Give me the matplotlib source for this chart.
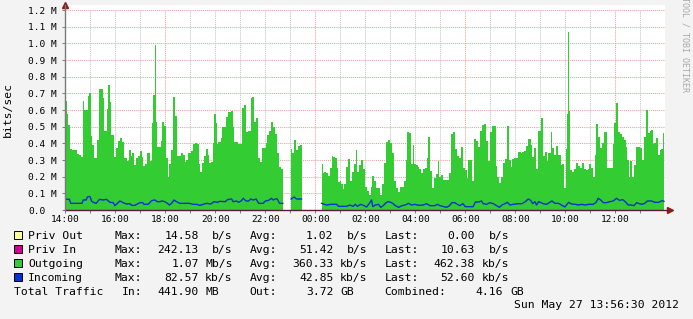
import numpy as np
import matplotlib
matplotlib.use("Agg")
import matplotlib.pyplot as plt
from matplotlib.patches import Rectangle

# time = minutes after 14:00 (Sat), values in Mbit/s
# gaps in the data are between the segments
outgoing_a = [(-2, .654), (2, .654), (4, .574), (7, .51), (10, .51), (13, .366), (19, .36), (26, .36),
              (29, .334), (35, .33), (40, .32), (43, .654), (48, .60), (53, .60), (56, .684), (59, .70),
              (63, .444), (67, .39), (71, .31), (75, .314), (79, .42), (83, .726), (88, .726), (91, .67),
              (95, .474), (98, .474), (101, .604), (106, .75), (109, .646), (112, .45), (115, .45),
              (120, .318), (123, .37), (128, .414), (133, .43), (138, .406), (143, .314), (147, .31),
              (151, .294), (155, .36), (159, .324), (163, .34), (168, .27), (173, .31), (178, .324),
              (181, .354), (186, .32), (189, .266), (194, .274), (197, .34), (202, .34), (205, .294),
              (210, .524), (213, .69), (216, .99), (219, .53), (221, .38), (226, .38), (231, .414),
              (235, .53), (239, .506), (243, .31), (248, .20), (251, .274), (255, .36), (258, .36),
              (261, .678), (266, .566), (269, .324), (275, .324), (280, .344), (285, .33), (288, .29),
              (293, .30), (298, .344), (304, .354), (309, .396), (315, .402), (319, .396), (322, .274),
              (325, .23), (330, .28), (335, .326), (339, .366), (344, .33), (347, .284), (352, .29),
              (355, .40), (359, .574), (362, .52), (365, .394), (370, .406), (375, .43), (379, .50),
              (384, .50), (389, .56), (394, .586), (400, .594), (403, .50), (408, .406), (413, .406),
              (418, .394), (423, .394), (427, .614), (432, .63), (435, .47), (442, .474), (447, .674),
              (451, .678), (455, .53), (459, .55), (464, .31), (469, .29), (474, .37), (479, .374),
              (482, .404), (487, .45), (491, .474), (496, .53), (501, .50), (506, .454), (511, .34),
              (515, .26), (520, .246), (522, .246)]
outgoing_b = [(542, .366), (546, .34), (551, .42), (555, .36), (560, .386), (566, .39), (567, .39)]
outgoing_c = [(616, .274), (619, .22), (624, .226), (629, .224), (632, .206), (637, .25), (641, .324),
              (646, .32), (650, .314), (653, .25), (656, .17), (661, .174), (664, .154), (667, .126),
              (672, .154), (677, .26), (682, .306), (685, .174), (690, .23), (695, .274), (698, .36),
              (703, .23), (707, .27), (712, .30), (717, .246), (722, .136), (727, .114), (730, .09),
              (735, .14), (739, .206), (744, .174), (749, .134), (754, .134), (757, .09), (762, .154),
              (767, .28), (771, .406), (776, .42), (781, .40), (786, .34), (791, .174), (795, .13),
              (800, .11), (805, .14), (810, .14), (815, .174), (819, .30), (823, .466), (827, .46),
              (832, .274), (835, .39), (839, .274), (843, .27), (848, .26), (851, .246), (856, .222),
              (861, .246), (866, .25), (869, .314), (874, .44), (877, .236), (882, .13), (887, .19),
              (891, .216), (896, .294), (899, .20), (904, .21), (909, .182), (914, .182), (919, .182),
              (923, .22), (928, .454), (933, .466), (938, .366), (943, .324), (947, .31), (952, .376),
              (957, .25), (962, .238), (965, .19), (970, .30), (975, .30), (978, .174), (983, .424),
              (987, .414), (992, .38), (997, .474), (1002, .51), (1007, .516), (1011, .414),
              (1016, .294), (1021, .47), (1026, .504), (1031, .504), (1034, .266), (1039, .20),
              (1043, .164), (1048, .20), (1053, .28), (1058, .306), (1063, .504), (1066, .30),
              (1071, .256), (1075, .306), (1080, .31), (1085, .314), (1090, .346), (1095, .342),
              (1099, .346), (1104, .354), (1109, .384), (1114, .426), (1119, .39), (1123, .32),
              (1128, .374), (1131, .246), (1136, .474), (1139, .474), (1143, .55), (1146, .55),
              (1149, .324), (1154, .346), (1157, .294), (1162, .34), (1167, .47), (1171, .37),
              (1176, .33), (1181, .386), (1186, .33), (1191, .27), (1195, .274), (1199, .134),
              (1202, .366), (1205, .574), (1208, 1.07), (1211, .594), (1213, .24), (1218, .23),
              (1223, .246), (1227, .28), (1232, .266), (1237, .254), (1242, .28), (1247, .246),
              (1251, .24), (1256, .246), (1259, .274), (1264, .254), (1269, .20), (1272, .33),
              (1277, .514), (1282, .44), (1287, .374), (1291, .404), (1296, .466), (1299, .466),
              (1303, .254), (1307, .254), (1312, .254), (1315, .394), (1320, .52), (1325, .644),
              (1328, .47), (1333, .454), (1338, .44), (1343, .42), (1347, .38), (1351, .30),
              (1354, .20), (1359, .294), (1363, .20), (1368, .27), (1373, .38), (1378, .378),
              (1383, .374), (1387, .30), (1392, .44), (1397, .60), (1400, .46), (1405, .474),
              (1408, .48), (1411, .394), (1416, .40), (1419, .43), (1424, .33), (1429, .36),
              (1432, .366), (1435, .46), (1437, .46)]

incoming_a = [(-2, .064), (10, .064), (13, .04), (40, .04), (43, .06), (50, .06), (53, .078), (59, .082),
              (63, .054), (67, .046), (74, .04), (82, .064), (91, .06), (99, .064), (107, .046),
              (115, .044), (119, .026), (125, .04), (131, .054), (139, .044), (147, .036), (155, .038),
              (159, .028), (167, .028), (173, .036), (179, .044), (186, .044), (189, .034), (199, .034),
              (207, .056), (215, .06), (221, .05), (227, .05), (232, .054), (239, .05), (245, .04),
              (250, .03), (255, .04), (261, .06), (267, .05), (275, .04), (298, .04), (307, .034),
              (315, .034), (323, .028), (331, .034), (339, .04), (349, .036), (357, .05), (365, .046),
              (371, .052), (384, .05), (389, .062), (399, .066), (403, .05), (411, .054), (416, .046),
              (423, .056), (427, .07), (434, .054), (440, .054), (445, .066), (451, .06), (458, .066),
              (464, .04), (475, .04), (480, .054), (488, .058), (495, .07), (499, .06), (504, .066),
              (509, .066), (514, .04), (522, .04)]
incoming_b = [(542, .066), (549, .078), (555, .066), (567, .066)]
incoming_c = [(615, .04), (627, .03), (637, .034), (651, .034), (656, .022), (675, .022), (683, .03),
              (691, .022), (696, .034), (701, .022), (709, .034), (717, .026), (723, .018), (730, .04),
              (735, .06), (738, .02), (744, .03), (752, .034), (757, .016), (763, .026), (770, .044),
              (775, .05), (781, .046), (787, .038), (792, .026), (800, .016), (808, .026), (816, .03),
              (824, .04), (831, .03), (839, .034), (848, .028), (859, .03), (867, .038), (875, .026),
              (887, .026), (893, .034), (899, .026), (909, .02), (915, .016), (922, .026), (928, .044),
              (935, .044), (941, .034), (947, .026), (954, .038), (960, .02), (979, .02), (984, .048),
              (992, .048), (999, .054), (1003, .038), (1011, .034), (1019, .044), (1027, .038),
              (1035, .026), (1042, .016), (1048, .03), (1055, .038), (1061, .046), (1067, .03),
              (1075, .034), (1088, .038), (1096, .038), (1104, .05), (1111, .066), (1117, .058),
              (1122, .038), (1127, .05), (1131, .03), (1136, .05), (1147, .038), (1155, .034),
              (1163, .046), (1168, .054), (1175, .04), (1184, .04), (1191, .03), (1199, .018),
              (1203, .03), (1208, .046), (1215, .036), (1224, .034), (1232, .03), (1239, .034),
              (1248, .03), (1256, .034), (1267, .034), (1274, .046), (1279, .07), (1285, .06),
              (1291, .044), (1299, .044), (1307, .05), (1315, .054), (1323, .07), (1330, .058),
              (1338, .062), (1344, .05), (1351, .03), (1359, .03), (1365, .026), (1371, .044),
              (1378, .038), (1384, .034), (1391, .04), (1397, .054), (1407, .054), (1415, .046),
              (1424, .046), (1432, .056), (1437, .052)]

x_tick_labels = ["14:00", "16:00", "18:00", "20:00", "22:00", "00:00",
                 "02:00", "04:00", "06:00", "08:00", "10:00", "12:00"]
y_tick_values = [0.0, 0.1, 0.2, 0.3, 0.4, 0.5, 0.6, 0.7, 0.8, 0.9, 1.0, 1.1, 1.2]
y_tick_labels = ["0.0", "0.1 M", "0.2 M", "0.3 M", "0.4 M", "0.5 M", "0.6 M",
                 "0.7 M", "0.8 M", "0.9 M", "1.0 M", "1.1 M", "1.2 M"]

names = ["Priv Out", "Priv In", "Outgoing", "Incoming"]
colors = ["#ffff99", "#cc0099", "#33cc33", "#0033cc"]
max_vals = ["14.58", "242.13", "1.07", "82.57"]
max_units = ["b/s", "b/s", "Mb/s", "kb/s"]
avg_vals = ["1.02", "51.42", "360.33", "42.85"]
avg_units = ["b/s", "b/s", "kb/s", "kb/s"]
last_vals = ["0.00", "10.63", "462.38", "52.60"]
last_units = ["b/s", "b/s", "kb/s", "kb/s"]
total_in, total_out, total_all = ("441.90", "MB"), ("3.72", "GB"), ("4.16", "GB")
stamp = "Sun May 27 13:56:30 2012"


def join(*segs):
    t, v = [], []
    for s in segs:
        if t:
            t.append(t[-1] + 1)
            v.append(np.nan)
        t += [p[0] for p in s]
        v += [p[1] for p in s]
    return np.array(t, float), np.array(v, float)


W, H = 693, 319
MONO = "DejaVu Sans Mono"
RED = "#eaa0a0"
GREY = "#c4c4c4"

fig = plt.figure(figsize=(W / 100, H / 100), dpi=100, facecolor="#f3f3f3")
ax = fig.add_axes([64.5 / W, (H - 210) / H, 600.5 / W, 205 / H])
ax.set_facecolor("white")
ax.set_xlim(-1.9, 1439.3)
ax.set_ylim(0, 1.23)
for s in ax.spines.values():
    s.set_visible(False)

# grid
dots = (0, (1, 1))
for v in y_tick_values[1:]:
    ax.plot([-1.9, 1439.3], [v, v], color=RED, lw=0.75, ls=dots, zorder=1)
for h in range(1, 24):
    ax.plot([h * 60, h * 60], [0, 1.2], color=RED if (14 + h) % 6 == 0 else GREY,
            lw=0.75, ls=dots, zorder=1)

t_out, v_out = join(outgoing_a, outgoing_b, outgoing_c)
t_in, v_in = join(incoming_a, incoming_b, incoming_c)
ax.fill_between(t_out, 0, v_out, color="#33cc33", lw=0, step="mid", zorder=2)
ax.plot(t_in, v_in, color="#0033cc", lw=1.0, zorder=3)

# axes with arrows
ax.plot([0, 1.004], [0, 0], transform=ax.transAxes, color="#5a1a3a", lw=1.0,
        clip_on=False, zorder=4)
ax.plot([0, 0], [0, 1], transform=ax.transAxes, color="#7a7a7a", lw=1.0,
        clip_on=False, zorder=4)
ax.plot([0], [1.0], marker="^", ms=4.5, color="#8b1a1a", transform=ax.transAxes, clip_on=False)
ax.plot([1.0075], [0], marker=">", ms=4.5, color="#8b1a1a", transform=ax.transAxes, clip_on=False)

ax.set_yticks(y_tick_values)
ax.set_yticklabels(y_tick_labels, family=MONO, fontsize=6.8, ha="left")
ax.tick_params(axis="y", length=2.2, width=0.7, color="#7a7a7a", pad=23.9)
ax.set_xticks(np.arange(len(x_tick_labels)) * 120)
ax.set_xticklabels(x_tick_labels, family=MONO, fontsize=6.8)
ax.set_xticks(np.arange(24) * 60, minor=True)
ax.tick_params(axis="x", which="both", length=2.0, width=0.7, color="#7a7a7a", pad=1.8)

fig.text(8 / W, 1 - 109.5 / H, "bits/sec", rotation=90, ha="center", va="center",
         family=MONO, fontsize=8.2)
fig.text(685 / W, 1 - 91.7 / H, "RRDTOOL / TOBI OETIKER", rotation=270, ha="center",
         va="bottom", family=MONO, fontsize=6.0, color="#a8a8a8")


def put(x, y, s, ha="left"):
    fig.text(x / W, 1 - y / H, s, ha=ha, va="baseline", family=MONO, fontsize=8.2)


for i, name in enumerate(names):
    base = 239 + 14 * i
    fig.patches.append(Rectangle((13.5 / W, 1 - base / H), 8 / W, 8 / H, transform=fig.transFigure,
                                 facecolor=colors[i], edgecolor="black", lw=0.7))
    put(28.3, base, name)
    put(114.7, base, "Max:")
    put(198.7, base, max_vals[i], "right")
    put(232.5, base, max_units[i], "right")
    put(250, base, "Avg:")
    put(333.3, base, avg_vals[i], "right")
    put(367.3, base, avg_units[i], "right")
    put(384.3, base, "Last:")
    put(475, base, last_vals[i], "right")
    put(509.3, base, last_units[i], "right")

put(14, 295, "Total Traffic")
put(122.3, 295, "In:")
put(198.7, 295, total_in[0], "right")
put(205.7, 295, total_in[1])
put(249.3, 295, "Out:")
put(333.3, 295, total_out[0], "right")
put(340.7, 295, total_out[1])
put(384.3, 295, "Combined:")
put(503.3, 295, total_all[0], "right")
put(510.7, 295, total_all[1])
put(679.3, 308, stamp, "right")

fig.savefig("out.png", dpi=100, facecolor=fig.get_facecolor())
